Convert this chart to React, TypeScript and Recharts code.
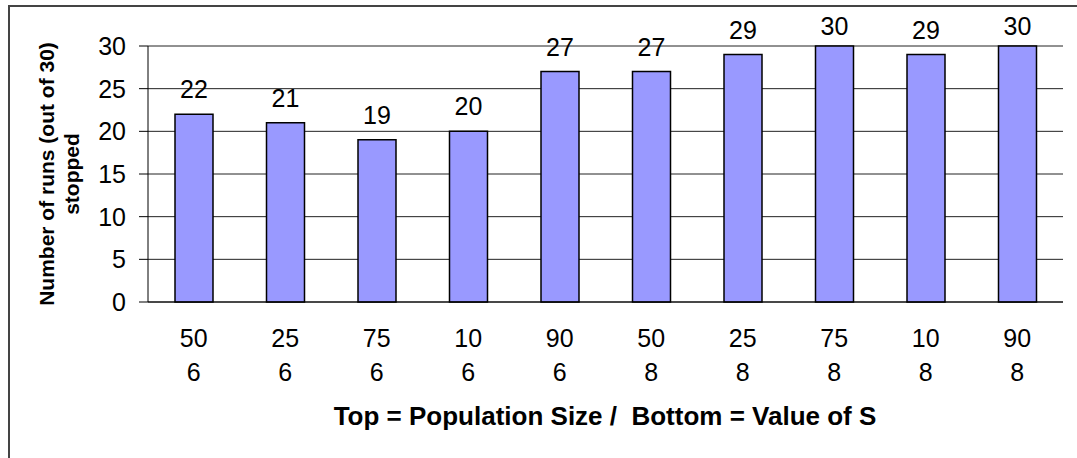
import { BarChart, Bar, XAxis, YAxis, CartesianGrid, LabelList } from 'recharts'

// population size (top label line) and value of S (bottom label line)
const POP_SIZES = [50, 25, 75, 10, 90, 50, 25, 75, 10, 90]
const S_VALUES = [6, 6, 6, 6, 6, 8, 8, 8, 8, 8]
const STOPPED = [22, 21, 19, 20, 27, 27, 29, 30, 29, 30]
const Y_TICKS = [0, 5, 10, 15, 20, 25, 30]
const EDGE_TICKS = [0, 1, 2, 3, 4, 5, 6, 7, 8, 9, 10]

const data = POP_SIZES.map((pop, i) => ({
  key: `${pop}/${S_VALUES[i]}`,
  pop,
  s: S_VALUES[i],
  stopped: STOPPED[i],
}))

const FONT = '"Liberation Sans", Arial, sans-serif'
const TEXT_SIZE = 25

// two-line category tick: population size above, S below
// eslint-disable-next-line @typescript-eslint/no-explicit-any
function CategoryTick({ x, y, payload }: any) {
  const row = data[payload.index] ?? data.find((d) => d.key === payload.value)
  return (
    <g>
      <text x={x} y={y + 45} textAnchor="middle" fontSize={TEXT_SIZE} fontFamily={FONT} fill="#000">
        {row?.pop}
      </text>
      <text x={x} y={y + 79} textAnchor="middle" fontSize={TEXT_SIZE} fontFamily={FONT} fill="#000">
        {row?.s}
      </text>
    </g>
  )
}

// value above each bar, kept below the top edge of the frame
// eslint-disable-next-line @typescript-eslint/no-explicit-any
function ValueLabel({ x, y, width, value }: any) {
  return (
    <text
      x={x + width / 2}
      y={Math.max(y - 16, 35)}
      textAnchor="middle"
      fontSize={TEXT_SIZE}
      fontFamily={FONT}
      fill="#000"
    >
      {value}
    </text>
  )
}

// eslint-disable-next-line @typescript-eslint/no-explicit-any
function YTitle({ viewBox }: any) {
  const cy = viewBox.y + viewBox.height / 2
  return (
    <g fontFamily={FONT} fontWeight="bold" fontSize={21} fill="#000">
      <text x={46} y={cy} transform={`rotate(-90 46 ${cy})`} textAnchor="middle" dominantBaseline="central">
        Number of runs (out of 30)
      </text>
      <text x={71} y={cy} transform={`rotate(-90 71 ${cy})`} textAnchor="middle" dominantBaseline="central">
        stopped
      </text>
    </g>
  )
}

function XTitle() {
  return (
    <text x={605} y={425} textAnchor="middle" fontFamily={FONT} fontWeight="bold" fontSize={26} fill="#000">
      {'Top = Population Size /\u00a0 Bottom = Value of S'}
    </text>
  )
}

export default function App() {
  return (
    <div
      style={{
        position: 'fixed',
        left: 0,
        top: 0,
        width: 1077,
        height: 458,
        background: '#fff',
        overflow: 'hidden',
      }}
    >
      {/* chart frame, runs off the right and bottom edges */}
      <div
        style={{
          position: 'absolute',
          left: 8,
          top: 5,
          width: 1200,
          height: 600,
          border: '2px solid #444',
          boxSizing: 'border-box',
        }}
      />
      <div style={{ position: 'absolute', left: 0, top: 0 }}>
        <BarChart
          width={1077}
          height={458}
          data={data}
          margin={{ top: 46, right: 14, left: 0, bottom: 6 }}
        >
          <CartesianGrid xAxisId="cat" vertical={false} stroke="#222" strokeWidth={1} />
          {/* tick marks between categories */}
          <XAxis
            xAxisId="edges"
            type="number"
            domain={[0, 10]}
            ticks={EDGE_TICKS}
            height={0}
            tick={false}
            axisLine={false}
            tickSize={8}
            tickLine={{ stroke: '#000' }}
          />
          <XAxis
            xAxisId="cat"
            dataKey="key"
            height={150}
            interval={0}
            tickLine={false}
            tickSize={0}
            tickMargin={0}
            axisLine={{ stroke: '#000' }}
            tick={<CategoryTick />}
            label={<XTitle />}
          />
          <YAxis
            width={148}
            domain={[0, 30]}
            ticks={Y_TICKS}
            interval={0}
            tickSize={9}
            tickMargin={13}
            axisLine={{ stroke: '#000' }}
            tickLine={{ stroke: '#000' }}
            tick={{ fontSize: TEXT_SIZE, fontFamily: FONT, fill: '#000' }}
            label={<YTitle />}
          />
          <Bar
            xAxisId="cat"
            dataKey="stopped"
            barSize={38}
            fill="#9999FF"
            stroke="#000"
            strokeWidth={1.5}
            isAnimationActive={false}
          >
            <LabelList dataKey="stopped" content={<ValueLabel />} />
          </Bar>
        </BarChart>
      </div>
    </div>
  )
}
